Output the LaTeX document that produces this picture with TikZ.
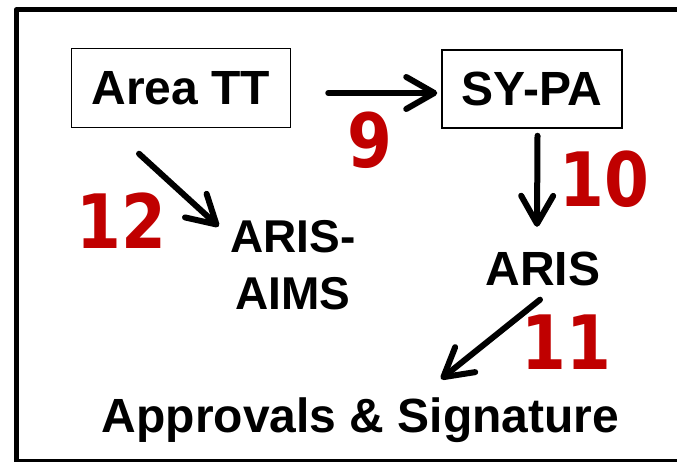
\documentclass[tikz,border=0pt]{standalone}
\usepackage{fontspec}
\setmainfont{Liberation Sans}
\newfontfamily\numfont{DejaVu Sans}[FakeStretch=0.86]
\usetikzlibrary{positioning,arrows.meta}
\definecolor{stepred}{HTML}{C00000}

\begin{document}
\begin{tikzpicture}[x=1pt,y=1pt,>={Straight Barb[length=28pt,width=32pt,round]},
  box/.style={draw,line width=1.5pt,minimum width=219pt,minimum height=79pt,inner sep=0pt,font=\fontsize{48}{58}\selectfont\bfseries},
  lbl/.style={inner sep=0pt,align=center,font=\fontsize{46}{57}\selectfont\bfseries},
  num/.style={inner sep=0pt,anchor=base,text=stepred,font=\numfont\bfseries\fontsize{75}{75}\selectfont},
  arr/.style={->,line width=6pt,line cap=round}]
  \useasboundingbox (0,0) rectangle (677,462);
  \clip (0,0) rectangle (677,462);
  \draw[line width=5pt,line join=round] (700,0.5) -- (16,0.5) -- (16,452) -- (700,452);

  \node[box] (areatt) at (181,374) {Area TT};
  \node[box,minimum width=180pt,minimum height=78pt] (sypa) at (532,373) {SY-PA};
  \node[lbl] (arisaims) at (293,196.5) {ARIS-\\AIMS};
  \node[lbl,font=\fontsize{48}{58}\selectfont\bfseries] (aris) at (543,193.5) {ARIS};
  \node[lbl,anchor=base,font=\fontsize{48}{58}\selectfont\bfseries] (approvals) at (360.5,29) {Approvals \& Signature};

  \node[num] (n9) at (370,294) {9};
  \node[num] (n10) at (604.5,255) {10};
  \node[num] (n11) at (566,92) {11};
  \node[num] (n12) at (121,213) {12};

  \draw[arr,shorten <=37pt,shorten >=4pt] ([yshift=-5pt]areatt.east) -- ([yshift=-4pt]sypa.west);
  \draw[arr] ([xshift=5.5pt,yshift=-7pt]sypa.south) -- ([xshift=-6pt,yshift=24.5pt]aris.north);
  \draw[arr] ([xshift=-3pt,yshift=-14pt]aris.south) -- ([xshift=80.5pt,yshift=19pt]approvals.north);
  \draw[arr] ([xshift=-42pt,yshift=-25.5pt]areatt.south) -- ([xshift=-11.5pt,yshift=-6pt]arisaims.north west);
\end{tikzpicture}
\end{document}
